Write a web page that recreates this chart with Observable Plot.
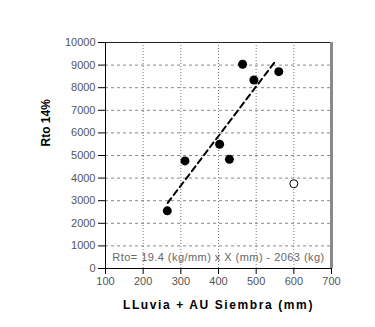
<!DOCTYPE html>
<html>
<head>
<meta charset="utf-8">
<script src="https://cdn.jsdelivr.net/npm/d3@7"></script>
<script src="https://cdn.jsdelivr.net/npm/@observablehq/plot@0.6"></script>
<style>
  html, body { margin: 0; padding: 0; background: #fff; }
  #chart { width: 375px; height: 327px; }
</style>
</head>
<body>
<div id="chart"></div>
<script>
// Data
const rain   = [264, 311, 403, 429, 464, 494, 560];       // LLuvia + AU Siembra (mm)
const yields = [2550, 4760, 5500, 4830, 9040, 8340, 8710]; // Rto 14% (kg)
const outRain  = [600];
const outYield = [3750];
const fitX = [265, 549];
const fitY = [2900, 9130];
const xTicks = [100, 200, 300, 400, 500, 600, 700];
const yTicks = [0, 1000, 2000, 3000, 4000, 5000, 6000, 7000, 8000, 9000, 10000];
const equation = "Rto= 19.4 (kg/mm) x X (mm) - 2063 (kg)";
const xLabel = "LLuvia + AU Siembra (mm)";
const yLabel = "Rto 14%";

const points = rain.map((x, i) => ({x, y: yields[i]}));
const outliers = outRain.map((x, i) => ({x, y: outYield[i]}));
const fit = fitX.map((x, i) => ({x, y: fitY[i]}));

const chart = Plot.plot({
  width: 375,
  height: 327,
  marginLeft: 105,
  marginRight: 44,
  marginTop: 42,
  marginBottom: 59,
  style: {fontFamily: "'Liberation Sans', Arial, sans-serif", fontSize: "11px", background: "#fff", color: "#000"},
  x: {domain: [100, 700], axis: null},
  y: {domain: [0, 10000], axis: null},
  marks: [
    Plot.ruleX(xTicks.slice(1, -1), {stroke: "#777", strokeDasharray: "1,2"}),
    Plot.ruleY(yTicks.slice(1, -1), {stroke: "#888", strokeDasharray: "3,3"}),
    Plot.ruleY([10000], {stroke: "#222"}),
    Plot.ruleX([700], {stroke: "#8a8a8a", strokeWidth: 3}),
    Plot.axisX({ticks: xTicks, tickFormat: d => String(d), tickSize: 6, tickPadding: 3, label: null, stroke: "#000", fill: "#555", fontSize: 11}),
    Plot.axisY({ticks: yTicks, tickFormat: d => String(d), tickSize: 7, tickPadding: 3, label: null, stroke: "#000", fill: "#555", fontSize: 11}),
    Plot.ruleX([100], {stroke: "#000"}),
    Plot.ruleY([0], {stroke: "#000"}),
    Plot.line(fit, {x: "x", y: "y", stroke: "#000", strokeWidth: 2, strokeDasharray: "6,4"}),
    Plot.dot(points, {x: "x", y: "y", r: 4.5, fill: "#000"}),
    Plot.dot(outliers, {x: "x", y: "y", r: 4, fill: "#fff", stroke: "#000", strokeWidth: 1}),
    Plot.text([equation], {frameAnchor: "bottom", lineAnchor: "middle", dy: -11, fill: "#666", fontSize: 11}),
    Plot.text([xLabel], {frameAnchor: "bottom", lineAnchor: "middle", dy: 37, fill: "#000", fontSize: 12, fontWeight: "bold"}),
    Plot.text([yLabel], {frameAnchor: "left", lineAnchor: "middle", rotate: -90, dx: -59, dy: -9, fill: "#000", fontSize: 12, fontWeight: "bold"})
  ]
});
d3.select(chart).selectAll("text").each(function() {
  const t = this.textContent;
  if (t === xLabel) this.style.letterSpacing = "1.6px";
  if (t === equation) this.style.letterSpacing = "0.45px";
});
document.getElementById("chart").appendChild(chart);
</script>
</body>
</html>
